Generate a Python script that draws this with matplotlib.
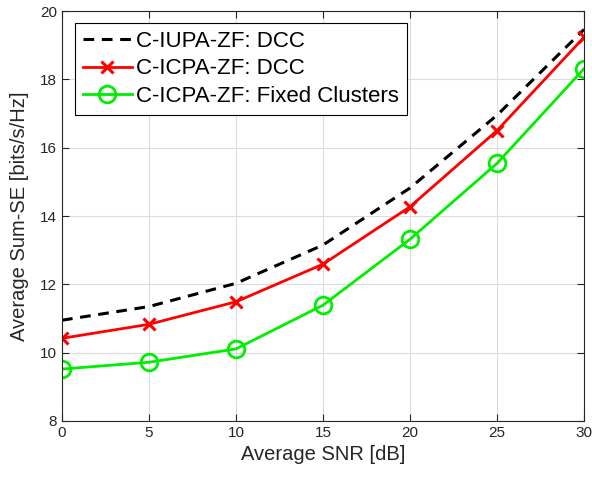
import matplotlib
matplotlib.use("Agg")
import matplotlib.pyplot as plt

snr = [0, 5, 10, 15, 20, 25, 30]
iupa_dcc = [10.95, 11.35, 12.03, 13.15, 14.82, 16.95, 19.46]
icpa_dcc = [10.42, 10.83, 11.49, 12.59, 14.27, 16.5, 19.23]
icpa_fixed = [9.52, 9.72, 10.11, 11.39, 13.32, 15.54, 18.31]
labels = ["C-IUPA-ZF: DCC", "C-ICPA-ZF: DCC", "C-ICPA-ZF: Fixed Clusters"]
xticks = [0, 5, 10, 15, 20, 25, 30]
yticks = [8, 10, 12, 14, 16, 18, 20]

plt.rcParams['font.family'] = ['Liberation Sans', 'DejaVu Sans']

fig = plt.figure(figsize=(5.92, 4.8), dpi=100)
ax = fig.add_axes([62/592, 1 - 421/480, 522/592, 410/480])

ax.plot(snr, iupa_dcc, color='black', linestyle=(0, (3.5, 2.5)), linewidth=2.2, label=labels[0])
ax.plot(snr, icpa_dcc, color='#ff0000', linestyle='-', linewidth=2.0, marker='x',
        markersize=9, markeredgewidth=2.2, label=labels[1])
ax.plot(snr, icpa_fixed, color='#00ee00', linestyle='-', linewidth=2.0, marker='o',
        markersize=12, markerfacecolor='none', markeredgewidth=2.0, label=labels[2])

ax.set_xlim(0, 30)
ax.set_ylim(8, 20)
ax.set_xticks(xticks)
ax.set_yticks(yticks)
ax.grid(True, color='#dcdcdc', linewidth=0.8)
ax.set_axisbelow(True)
ax.tick_params(direction='in', top=True, right=True, labelsize=11, colors='#262626', length=5)
for s in ax.spines.values():
    s.set_color('#262626')
    s.set_linewidth(0.8)

ax.set_xlabel("Average SNR [dB]", fontsize=14.5, color='#262626', labelpad=4)
ax.set_ylabel("Average Sum-SE [bits/s/Hz]", fontsize=14.5, color='#262626', labelpad=8)

leg = ax.legend(loc='upper left', bbox_to_anchor=(13/522, 398/410), borderaxespad=0,
                fontsize=16, fancybox=False, edgecolor='black', framealpha=1,
                handlelength=2.2, handletextpad=0.2, labelspacing=0.3, borderpad=0.35)
leg.get_frame().set_linewidth(0.8)

fig.savefig("out.png", dpi=100)
